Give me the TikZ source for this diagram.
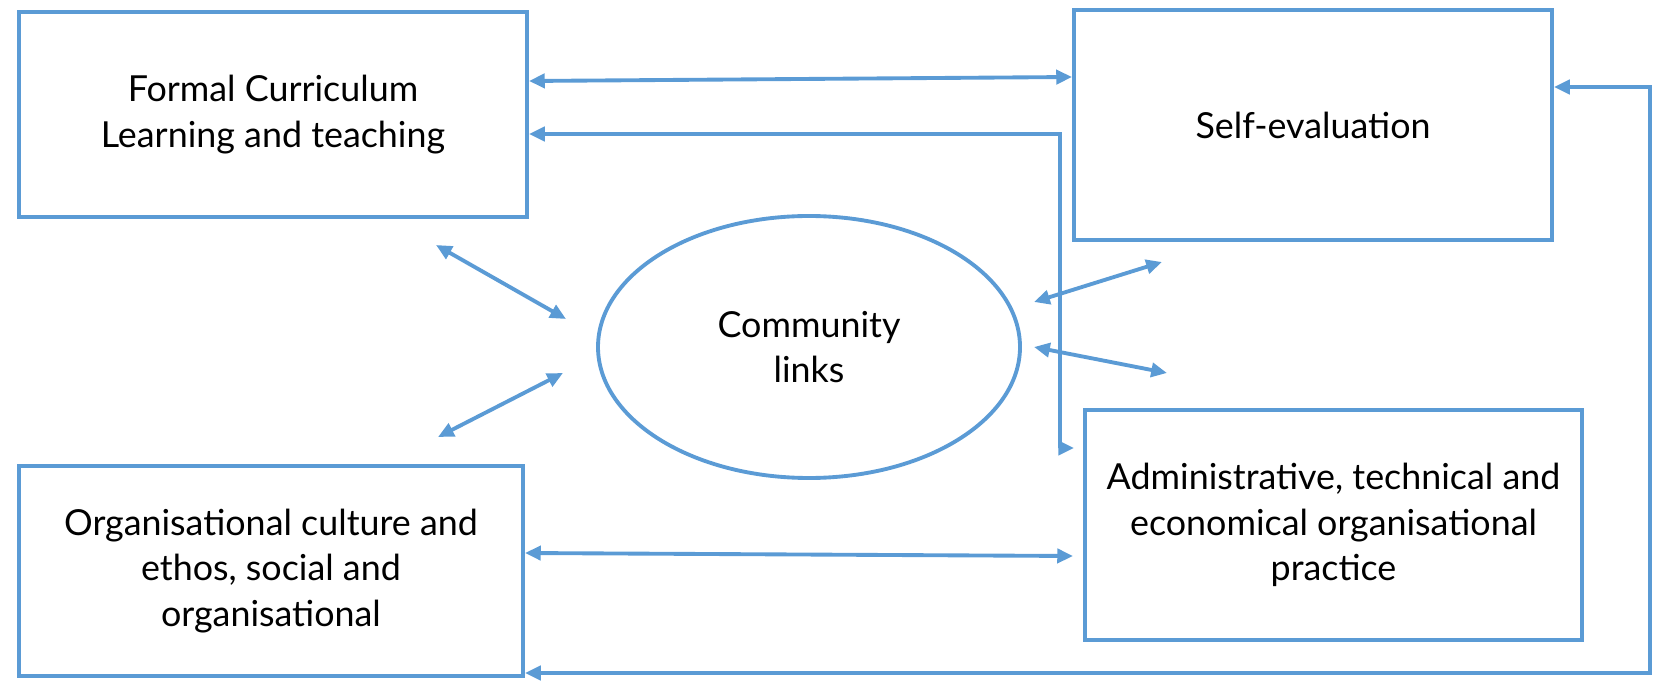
\documentclass[tikz,border=0pt]{standalone}
\usepackage{fontspec}
\setmainfont{Lato}
\usetikzlibrary{arrows.meta, positioning, shapes.geometric, calc}
\definecolor{linkblue}{RGB}{91,155,213}

\begin{document}
\begin{tikzpicture}[
    box/.style={draw=linkblue, line width=1.1pt, align=center, font=\fontsize{10.2}{12.9}\selectfont, inner sep=2pt},
    hub/.style={draw=linkblue, line width=1.1pt, ellipse, align=center, font=\fontsize{10.2}{12.9}\selectfont, inner sep=0pt},
    link/.style={draw=linkblue, line width=1.1pt, {Triangle[length=4.5pt,width=4pt]}-{Triangle[length=4.5pt,width=4pt]}}]
  \useasboundingbox (0,0) rectangle (16.63,6.81);
  \node[box, minimum width=5.08cm, minimum height=2.05cm] (fc) at (2.73,5.665) {Formal Curriculum\\Learning and teaching};
  \node[box, minimum width=4.78cm, minimum height=2.30cm] (se) at (13.13,5.56) {Self-evaluation};
  \node[hub, minimum width=4.22cm, minimum height=2.62cm] (cl) at (8.09,3.34) {Community\\links};
  \node[box, minimum width=5.04cm, minimum height=2.10cm] (oc) at (2.71,1.10) {Organisational culture and\\ethos, social and\\organisational};
  \node[box, minimum width=4.97cm, minimum height=2.30cm] (ad) at (13.335,1.56) {Administrative, technical and\\economical organisational\\practice};
  % free ends of the short arrows and the corners of the long ones
  \coordinate (ula) at (4.36,4.36);
  \coordinate (ulb) at (5.66,3.62);
  \coordinate (lla) at (4.38,2.44);
  \coordinate (llb) at (5.63,3.08);
  \coordinate (ura) at (10.34,3.79);
  \coordinate (urb) at (11.62,4.19);
  \coordinate (lra) at (10.34,3.34);
  \coordinate (lrb) at (11.67,3.08);
  \coordinate (loopa) at (10.60,2.33);
  \coordinate (loopb) at (16.50,0.08);
  \draw[link] ([yshift=3.35mm]fc.east) -- ([yshift=4.8mm]se.west);
  \draw[link] ([yshift=-1.95mm]fc.east) -| (loopa) -- ([xshift=-0.9mm,yshift=7.7mm]ad.west);
  \draw[link] ([yshift=3.8mm]se.east) -| (loopb) -- ([yshift=-10.2mm]oc.east);
  \draw[link] ([yshift=1.8mm]oc.east) -- ([xshift=-1mm,yshift=-3.1mm]ad.west);
  \draw[link] (ula) -- (ulb);
  \draw[link] (lla) -- (llb);
  \draw[link] (ura) -- (urb);
  \draw[link] (lra) -- (lrb);
\end{tikzpicture}
\end{document}
